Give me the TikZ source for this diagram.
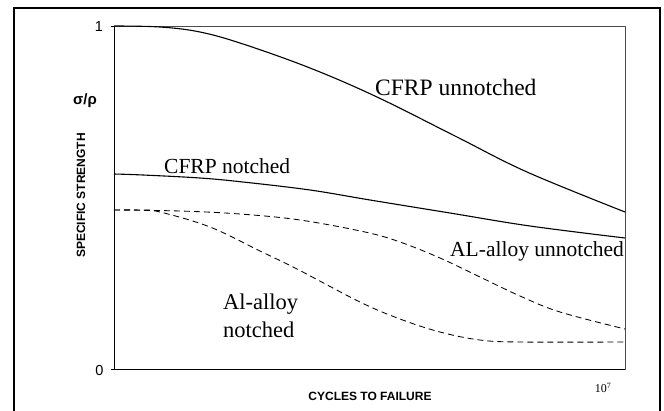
\documentclass[tikz,border=0pt]{standalone}
\usepackage{fontspec}
\setmainfont{Liberation Serif}
\setsansfont{Liberation Sans}
\usetikzlibrary{positioning}

\begin{document}
\begin{tikzpicture}[x=1pt,y=-1pt,
  curvelbl/.style={font=\fontsize{21.5}{28}\selectfont,inner sep=0pt},
  axislbl/.style={font=\sffamily\bfseries\fontsize{12}{14}\selectfont,inner sep=0pt},
  ticklbl/.style={font=\sffamily\fontsize{14.5}{16}\selectfont,inner sep=0pt},
  cfrp/.style={line width=1.1pt},
  alloy/.style={line width=0.85pt,dash pattern=on 6pt off 4pt}]
\useasboundingbox (0,0) rectangle (664,410);
\fill[white] (0,0) rectangle (664,410);
% outer frame (bottom edge cut off)
\draw[line width=2.6pt] (14,412)--(14,8)--(660,8)--(660,412);
% plot area
\draw[black!70,line width=0.8pt] (114,26) rectangle (625,369.5);
\draw[line width=1pt] (114,26)--(114,369.5)--(625,369.5);
\draw[line width=0.8pt] (111,26)--(114,26) (111,369.5)--(114,369.5);
\node[ticklbl] (one) at (99,27) {1};
\node[ticklbl] (zero) at (99.5,370.5) {0};
\node[font=\sffamily\bfseries\fontsize{15}{17}\selectfont,inner sep=0pt] (ratio) at (85,101) {σ/ρ};
\node[axislbl,rotate=90] (ylbl) at (81,195.5) {SPECIFIC STRENGTH};
\node[axislbl,anchor=base] (xlbl) at (370,400) {CYCLES TO FAILURE};
\node[font=\fontsize{12}{14}\selectfont,inner sep=0pt] (xmax) at (603,388) {10\textsuperscript{7}};
% curves
\draw[cfrp] plot[smooth,tension=0.6] coordinates {(114,26) (160,27) (200,32) (243,44) (310,68) (377,97) (457,137) (527,172) (625,212)};
\draw[cfrp] plot[smooth,tension=0.6] coordinates {(114,174) (143,175) (200,178) (243,182) (310,190) (370,200) (450,213) (530,226) (625,238)};
\draw[alloy] plot[smooth,tension=0.6] coordinates {(114,210) (180,211) (240,214) (300,220) (365,232) (400,242) (440,258) (480,277) (520,296) (560,312) (625,329)};
\draw[alloy] plot[smooth,tension=0.6] coordinates {(114,210) (140,210) (160,212) (210,227) (260,251) (297,269) (360,302) (400,319) (440,332) (480,340) (520,342) (625,342)};
% curve labels
\node[curvelbl,font=\fontsize{23.5}{28}\selectfont,anchor=base west] (cfrpun) at (375,95) {CFRP unnotched};
\node[curvelbl,anchor=base west] (cfrpno) at (164,173) {CFRP notched};
\node[curvelbl,anchor=base west] (alun) at (450,256) {AL-alloy unnotched};
\node[curvelbl,font=\fontsize{22.5}{28}\selectfont,anchor=west,align=left] (alno) at (223,315.5) {Al-alloy\\notched};
\end{tikzpicture}
\end{document}
